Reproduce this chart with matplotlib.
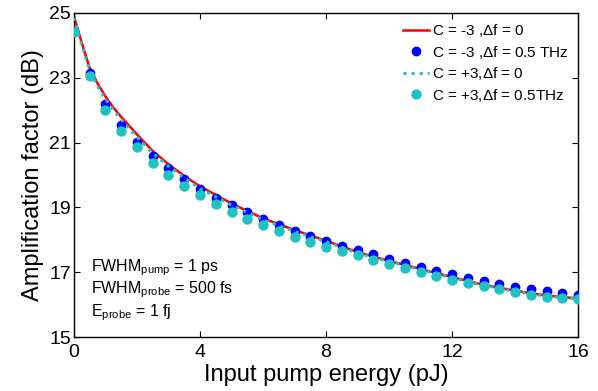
import matplotlib.pyplot as plt
import numpy as np

plt.rcParams['font.family'] = ['Liberation Sans', 'DejaVu Sans']
plt.rcParams['mathtext.fontset'] = 'custom'
plt.rcParams['mathtext.rm'] = 'Liberation Sans'
plt.rcParams['mathtext.it'] = 'Liberation Sans'

# points every 0.5 pJ
x_pts = np.arange(0, 16.01, 0.5)
blue_pts = [24.43, 23.15, 22.19, 21.55, 21.03, 20.57, 20.21, 19.87, 19.56,
            19.30, 19.07, 18.85, 18.64, 18.46, 18.27, 18.12, 17.97, 17.82,
            17.68, 17.55, 17.41, 17.28, 17.17, 17.04, 16.93, 16.83, 16.72,
            16.63, 16.55, 16.48, 16.42, 16.35, 16.31]
cyan_pts = [24.41, 23.06, 22.01, 21.37, 20.85, 20.36, 20.00, 19.67, 19.38,
            19.10, 18.86, 18.64, 18.45, 18.27, 18.09, 17.94, 17.79, 17.66,
            17.53, 17.37, 17.24, 17.12, 17.00, 16.88, 16.76, 16.66, 16.56,
            16.47, 16.38, 16.30, 16.24, 16.20, 16.16]

# continuous curves
x_line = [0, 0.125, 0.25, 0.5, 0.75, 1, 1.25, 1.5, 2, 2.5, 3, 3.5, 4, 5, 6,
          7, 8, 9, 10, 11, 12, 13, 14, 15, 16]
red_line = [24.90, 24.48, 24.07, 23.30, 22.82, 22.42, 22.08, 21.79, 21.25,
            20.74, 20.33, 19.97, 19.65, 19.12, 18.66, 18.30, 17.97, 17.62,
            17.35, 17.10, 16.85, 16.61, 16.43, 16.28, 16.19]
cyan_line = [24.85, 24.42, 24.00, 23.22, 22.74, 22.34, 22.00, 21.71, 21.17,
             20.67, 20.27, 19.91, 19.58, 19.07, 18.62, 18.26, 17.94, 17.59,
             17.33, 17.08, 16.83, 16.59, 16.41, 16.26, 16.18]

cyan = '#1fc2c2'

fig = plt.figure(figsize=(5.98, 3.91), dpi=100)
ax = fig.add_axes([0.1237, 0.138, 0.843, 0.829])

ax.plot(x_line, red_line, '-', color='red', lw=1.8,
        label=r'C = -3 ,$\Delta$f = 0', zorder=2)
ax.plot(x_pts, blue_pts, 'o', color='blue', ms=6, mec='blue',
        label=r'C = -3 ,$\Delta$f = 0.5 THz', zorder=3)
ax.plot(x_line, cyan_line, ':', color=cyan, lw=2.2,
        label=r'C = +3,$\Delta$f = 0', zorder=4)
ax.plot(x_pts, cyan_pts, 'o', color=cyan, ms=6.5, mec=cyan,
        label=r'C = +3,$\Delta$f = 0.5THz', zorder=5)

ax.set_xlim(0, 16)
ax.set_ylim(15, 25)
ax.set_xticks([0, 4, 8, 12, 16])
ax.set_yticks([15, 17, 19, 21, 23, 25])
ax.tick_params(direction='in', top=True, right=True, labelsize=14,
               length=4, width=0.8)
ax.tick_params(axis='x', pad=5)
ax.tick_params(axis='y', pad=2)
for s in ax.spines.values():
    s.set_linewidth(1.0)

ax.set_xlabel('Input pump energy (pJ)', fontsize=17, labelpad=2)
ax.set_ylabel('Amplification factor (dB)', fontsize=17, labelpad=4)

leg = ax.legend(loc='upper right', frameon=False, fontsize=11,
                handlelength=1.7, handletextpad=0.2, labelspacing=0.3,
                borderaxespad=0.2)

ax.text(0.033, 0.215, r'FWHM$_{\rm pump}$ = 1 ps', transform=ax.transAxes,
        fontsize=11.5, va='center')
ax.text(0.033, 0.145, r'FWHM$_{\rm probe}$ = 500 fs', transform=ax.transAxes,
        fontsize=11.5, va='center')
ax.text(0.033, 0.075, r'E$_{\rm probe}$ = 1 fj', transform=ax.transAxes,
        fontsize=11.5, va='center')

plt.savefig('out.png', dpi=100)
